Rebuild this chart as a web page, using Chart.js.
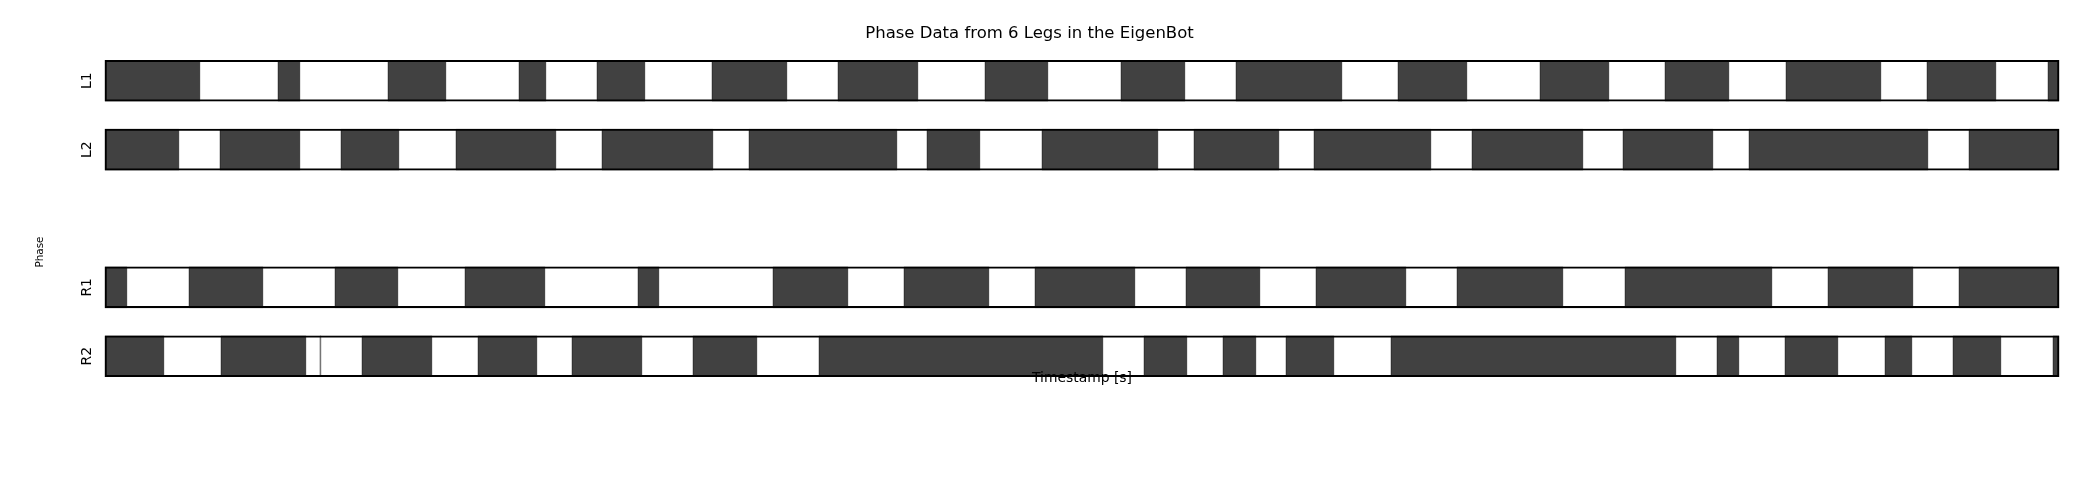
<!DOCTYPE html>
<html>
<head>
<meta charset="utf-8">
<script src="https://cdn.jsdelivr.net/npm/chart.js@4.4.1/dist/chart.umd.min.js"></script>
<style>
  body { margin: 0; background: #fff; }
</style>
</head>
<body>
<canvas id="phaseChart" width="2100" height="500"></canvas>
<script>
// legs shown and the row each one sits on (row 2 stays empty)
const legNames = ['L1', 'L2', 'R1', 'R2'];
const legRows = [0, 1, 3, 4];

// timestamps [s] where each leg switches phase, first span is stance (dark)
const l1Switch = [0, 0.95, 1.73, 1.95, 2.83, 3.41, 4.14, 4.41, 4.92, 5.40, 6.07, 6.82, 7.33, 8.13, 8.80, 9.43,
  10.16, 10.80, 11.31, 12.37, 12.93, 13.62, 14.35, 15.04, 15.60, 16.24, 16.81, 17.76, 18.22, 18.91, 19.43, 19.54];
const l2Switch = [0, 0.74, 1.15, 1.95, 2.36, 2.94, 3.51, 4.51, 4.97, 6.08, 6.44, 7.92, 8.22, 8.75, 9.37,
  10.53, 10.89, 11.74, 12.09, 13.26, 13.67, 14.78, 15.18, 16.08, 16.44, 18.23, 18.64, 19.54];
const r1Switch = [0, 0.22, 0.84, 1.58, 2.30, 2.93, 3.60, 4.40, 5.33, 5.54, 6.68, 7.43, 7.99, 8.84, 9.30,
  10.30, 10.81, 11.55, 12.11, 13.01, 13.52, 14.58, 15.20, 16.67, 17.23, 18.08, 18.54, 19.54];
const r2Switch = [0, 0.59, 1.16, 2.01, 2.15, 2.16, 2.57, 3.27, 3.73, 4.32, 4.67, 5.37, 5.88, 6.52, 7.14, 9.98,
  10.39, 10.82, 11.18, 11.51, 11.81, 12.29, 12.86, 15.71, 16.12, 16.34, 16.80, 17.33, 17.80, 18.07, 18.48,
  18.96, 19.48, 19.54];
const timeEnd = 19.54;

const switchTimes = [l1Switch, l2Switch, r1Switch, r2Switch];

// turn the switch times into floating bar segments
const segments = [];
switchTimes.forEach((times, leg) => {
  for (let i = 0; i < times.length - 1; i++) {
    segments.push({ x: [times[i], times[i + 1]], y: legRows[leg], stance: i % 2 === 0 });
  }
});
const outlines = legRows.map(row => ({ x: [0, timeEnd], y: row }));

// axis labels sit where matplotlib put them, so draw them by hand
const axisLabels = {
  id: 'axisLabels',
  afterDraw(chart) {
    const { ctx, chartArea } = chart;
    ctx.save();
    ctx.fillStyle = '#000';
    ctx.textAlign = 'center';
    ctx.textBaseline = 'middle';
    ctx.font = '13.9px "DejaVu Sans"';
    ctx.fillText('Timestamp [s]', (chartArea.left + chartArea.right) / 2, chartArea.bottom + 8);
    ctx.translate(40, 252);
    ctx.rotate(-Math.PI / 2);
    ctx.font = '10.4px "DejaVu Sans"';
    ctx.fillText('Phase', 0, 0);
    ctx.restore();
  }
};

const ctx = document.getElementById('phaseChart').getContext('2d');
const phaseChart = new Chart(ctx, {
  type: 'bar',
  data: {
    datasets: [
      {
        data: outlines,
        backgroundColor: 'rgba(0,0,0,0)',
        borderColor: '#000',
        borderWidth: 1.4,
        borderSkipped: false,
        barThickness: 41,
        grouped: false,
        clip: false,
        order: 0
      },
      {
        data: segments,
        backgroundColor: c => (c.raw && c.raw.stance) ? '#414141' : '#ffffff',
        borderColor: c => (c.raw && c.raw.stance) ? '#2e2e2e' : '#d4d4d4',
        borderWidth: 1,
        borderSkipped: false,
        barThickness: 41,
        grouped: false,
        clip: false,
        order: 1
      }
    ]
  },
  options: {
    indexAxis: 'y',
    responsive: false,
    animation: false,
    layout: { padding: { left: 0, right: 41, top: 0, bottom: 130 } },
    plugins: {
      legend: { display: false },
      tooltip: { enabled: false },
      title: {
        display: true,
        text: 'Phase Data from 6 Legs in the EigenBot',
        color: '#000',
        font: { family: 'DejaVu Sans', size: 16.5, weight: 'normal' },
        padding: { top: 23.5, bottom: 3 }
      }
    },
    scales: {
      x: {
        type: 'linear',
        min: 0,
        max: timeEnd,
        display: false
      },
      y: {
        type: 'linear',
        reverse: true,
        offset: false,
        min: -0.5,
        max: 4.2,
        grid: { display: false, drawTicks: false },
        border: { display: false },
        afterBuildTicks: scale => { scale.ticks = legRows.map(v => ({ value: v })); },
        afterFit: scale => { scale.width = 105; },
        ticks: {
          minRotation: 90,
          maxRotation: 90,
          crossAlign: 'center',
          padding: 8,
          color: '#000',
          font: { family: 'DejaVu Sans', size: 13.9 },
          callback: v => legNames[legRows.indexOf(v)] ?? ''
        }
      }
    }
  },
  plugins: [axisLabels]
});
</script>
</body>
</html>
